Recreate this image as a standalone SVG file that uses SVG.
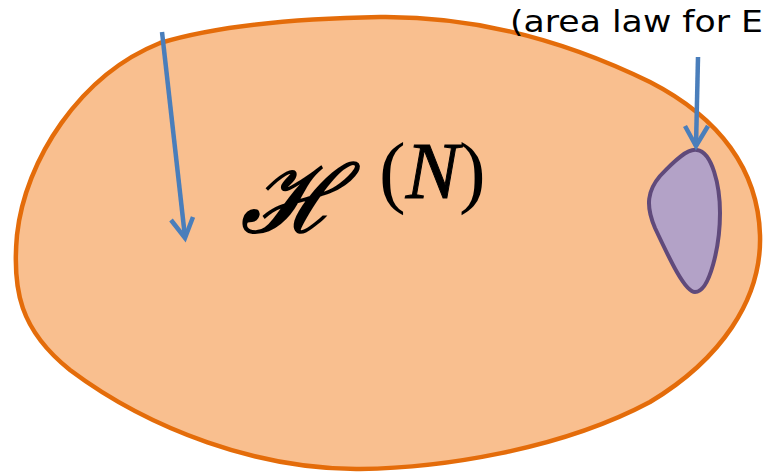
<svg xmlns="http://www.w3.org/2000/svg" width="763" height="473" viewBox="0 0 763 473">
<style>
.outer{fill:#F9BF8F;stroke:#E46C0A;stroke-width:4.5}
.inner{fill:#B3A2C7;stroke:#604A7B;stroke-width:4}
.arrow{fill:none;stroke:#4A7EBB;stroke-width:4.5;stroke-linecap:butt;stroke-linejoin:miter}
.label{font-family:"Comic Sans MS","DejaVu Sans",sans-serif;font-size:31px;fill:#000}
.math{font-family:"Liberation Serif","DejaVu Serif",serif;fill:#000}
</style>
<rect width="763" height="473" fill="#fff"/>
<g id="hilbert">
<path class="outer" d="M 160 43 C 230 22, 320 18, 380 17 C 470 16, 560 38, 650 82 C 720 118, 758 170, 760 235 C 762 300, 720 360, 650 402 C 560 450, 440 468, 360 469 C 260 470, 150 430, 70 370 C 20 330, 12 290, 17 235 C 25 160, 80 75, 160 43 Z"/>
<text x="241" y="232" font-family="DejaVu Serif, serif" font-size="94" font-style="italic" stroke="#000" stroke-width="2">ℋ</text>
<text class="math" x="379" y="198" font-size="80"><tspan>(</tspan><tspan font-style="italic" stroke="#000" stroke-width="1">N</tspan><tspan>)</tspan></text>
</g>
<g id="region">
<path class="inner" d="M 697 150 C 712 152, 720 185, 720 213 C 720 245, 710 292, 695 292 C 685 292, 670 260, 655 228 C 645 205, 648 190, 660 176 C 675 160, 688 148, 697 150 Z"/>
</g>
<g id="annotation">
<text class="label" x="510" y="32" textLength="253" lengthAdjust="spacingAndGlyphs">(area law for E</text>
</g>
<g id="connectors">
<path class="arrow" d="M 162 32 L 185 237"/>
<path class="arrow" d="M 171 220 L 185 238 L 193 217"/>
<path class="arrow" d="M 698 57 L 696 146"/>
<path class="arrow" d="M 685 126 L 696 146 L 708 126"/>
</g>
</svg>
